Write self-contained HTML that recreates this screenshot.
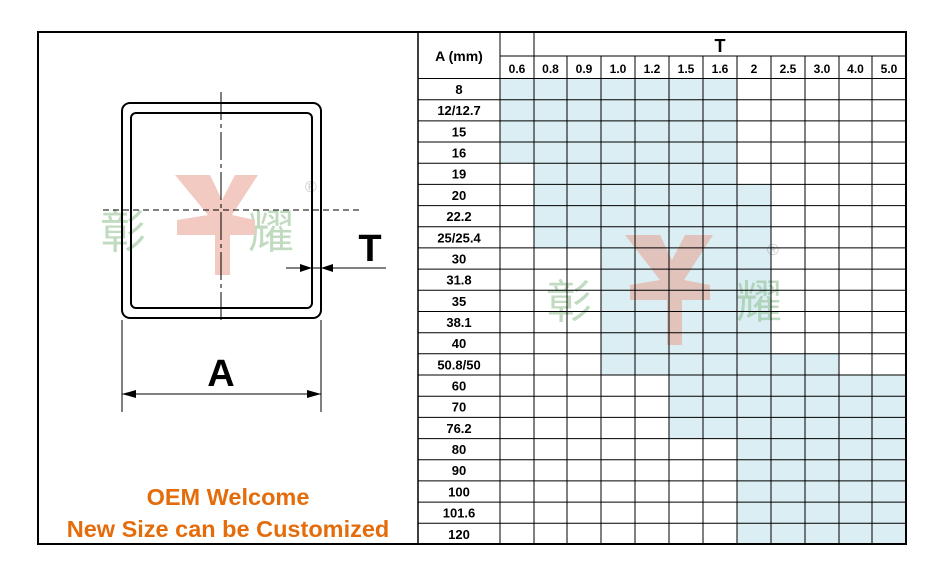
<!DOCTYPE html>
<html><head><meta charset="utf-8"><style>
body{margin:0;background:#fff;width:936px;height:575px;overflow:hidden}
svg{position:absolute;left:0;top:0}
</style></head><body>
<svg width="936" height="575" viewBox="0 0 936 575" xmlns="http://www.w3.org/2000/svg" font-family="Liberation Sans, Noto Sans CJK SC, sans-serif">
<g fill="#daeef3">
<rect x="500" y="78.5" width="237" height="84.7"/>
<rect x="534" y="163.2" width="203" height="21.2"/>
<rect x="534" y="184.4" width="237" height="63.5"/>
<rect x="601" y="247.9" width="170" height="105.9"/>
<rect x="601" y="353.8" width="238" height="21.2"/>
<rect x="669" y="375" width="237" height="63.6"/>
<rect x="737" y="438.6" width="169" height="105.9"/>
</g>
<g opacity="0.55">
<text x="100" y="248" font-size="46" fill="#8fbf8f">彰</text>
<text x="248" y="248" font-size="46" fill="#8fbf8f">耀</text>
<path d="M175,175 L210,175 L222,200 L235,175 L258,175 L232,215 L255,220 L255,235 L230,235 L230,275 L215,275 L215,235 L177,235 L177,220 L208,215 z" fill="#e8a090"/>
<text x="305" y="192" font-size="16" fill="#999">®</text>
<text x="546" y="318" font-size="46" fill="#8fbf8f">彰</text>
<text x="736" y="318" font-size="46" fill="#8fbf8f">耀</text>
<path d="M625,235 L660,235 L672,260 L685,235 L713,235 L684,280 L710,285 L710,300 L682,300 L682,345 L667,345 L667,300 L630,300 L630,285 L660,280 z" fill="#e8a090"/>
<text x="767" y="255" font-size="16" fill="#999">®</text>
</g>
<g fill="none" stroke="#000">
<rect x="122" y="103" width="199" height="215" rx="8" stroke-width="2"/>
<rect x="131" y="113" width="181" height="195" rx="5" stroke-width="2"/>
<line x1="221" y1="92" x2="221" y2="320" stroke-width="1" stroke-dasharray="28,4,4,4"/>
<line x1="103" y1="210" x2="363" y2="210" stroke-width="1" stroke-dasharray="6,4"/>
<line x1="286" y1="268" x2="386" y2="268" stroke-width="1"/>
<line x1="122" y1="320" x2="122" y2="412" stroke-width="1"/>
<line x1="321" y1="320" x2="321" y2="412" stroke-width="1"/>
<line x1="122" y1="394" x2="321" y2="394" stroke-width="1"/>
</g>
<g fill="#000">
<polygon points="312,268 300,264 300,272"/>
<polygon points="321,268 333,264 333,272"/>
<polygon points="122,394 136,390 136,398"/>
<polygon points="321,394 307,390 307,398"/>
</g>
<text x="370" y="261" font-size="38" font-weight="bold" text-anchor="middle">T</text>
<text x="221" y="386" font-size="38" font-weight="bold" text-anchor="middle">A</text>
<text x="228" y="505" font-size="23.5" font-weight="bold" fill="#e46c0a" text-anchor="middle">OEM Welcome</text>
<text x="228" y="537" font-size="23.5" font-weight="bold" fill="#e46c0a" text-anchor="middle">New Size can be Customized</text>
<g stroke="#000" stroke-width="1">
<line x1="500" y1="56" x2="906" y2="56"/>
<line x1="418" y1="78.5" x2="906" y2="78.5"/>
<line x1="418" y1="99.7" x2="906" y2="99.7"/>
<line x1="418" y1="120.9" x2="906" y2="120.9"/>
<line x1="418" y1="142" x2="906" y2="142"/>
<line x1="418" y1="163.2" x2="906" y2="163.2"/>
<line x1="418" y1="184.4" x2="906" y2="184.4"/>
<line x1="418" y1="205.6" x2="906" y2="205.6"/>
<line x1="418" y1="226.8" x2="906" y2="226.8"/>
<line x1="418" y1="247.9" x2="906" y2="247.9"/>
<line x1="418" y1="269.1" x2="906" y2="269.1"/>
<line x1="418" y1="290.3" x2="906" y2="290.3"/>
<line x1="418" y1="311.5" x2="906" y2="311.5"/>
<line x1="418" y1="332.7" x2="906" y2="332.7"/>
<line x1="418" y1="353.8" x2="906" y2="353.8"/>
<line x1="418" y1="375" x2="906" y2="375"/>
<line x1="418" y1="396.2" x2="906" y2="396.2"/>
<line x1="418" y1="417.4" x2="906" y2="417.4"/>
<line x1="418" y1="438.6" x2="906" y2="438.6"/>
<line x1="418" y1="459.7" x2="906" y2="459.7"/>
<line x1="418" y1="480.9" x2="906" y2="480.9"/>
<line x1="418" y1="502.1" x2="906" y2="502.1"/>
<line x1="418" y1="523.3" x2="906" y2="523.3"/>
<line x1="500" y1="32" x2="500" y2="544"/>
<line x1="534" y1="32" x2="534" y2="544"/>
<line x1="567" y1="56" x2="567" y2="544"/>
<line x1="601" y1="56" x2="601" y2="544"/>
<line x1="635" y1="56" x2="635" y2="544"/>
<line x1="669" y1="56" x2="669" y2="544"/>
<line x1="703" y1="56" x2="703" y2="544"/>
<line x1="737" y1="56" x2="737" y2="544"/>
<line x1="771" y1="56" x2="771" y2="544"/>
<line x1="805" y1="56" x2="805" y2="544"/>
<line x1="839" y1="56" x2="839" y2="544"/>
<line x1="872" y1="56" x2="872" y2="544"/>
</g>
<g font-size="12" font-weight="bold" text-anchor="middle">
<text x="517" y="73">0.6</text><text x="550.5" y="73">0.8</text><text x="584" y="73">0.9</text><text x="618" y="73">1.0</text><text x="652" y="73">1.2</text><text x="686" y="73">1.5</text><text x="720" y="73">1.6</text><text x="754" y="73">2</text><text x="788" y="73">2.5</text><text x="822" y="73">3.0</text><text x="855.5" y="73">4.0</text><text x="889" y="73">5.0</text>
</g>
<text x="720" y="52" font-size="18" font-weight="bold" text-anchor="middle">T</text>
<text x="459" y="61" font-size="14" font-weight="bold" text-anchor="middle">A (mm)</text>
<g font-size="13" font-weight="bold" text-anchor="middle">
<text x="459" y="94">8</text>
<text x="459" y="115.2">12/12.7</text>
<text x="459" y="136.4">15</text>
<text x="459" y="157.5">16</text>
<text x="459" y="178.7">19</text>
<text x="459" y="199.9">20</text>
<text x="459" y="221.1">22.2</text>
<text x="459" y="242.3">25/25.4</text>
<text x="459" y="263.4">30</text>
<text x="459" y="284.6">31.8</text>
<text x="459" y="305.8">35</text>
<text x="459" y="327">38.1</text>
<text x="459" y="348.2">40</text>
<text x="459" y="369.3">50.8/50</text>
<text x="459" y="390.5">60</text>
<text x="459" y="411.7">70</text>
<text x="459" y="432.9">76.2</text>
<text x="459" y="454.1">80</text>
<text x="459" y="475.2">90</text>
<text x="459" y="496.4">100</text>
<text x="459" y="517.6">101.6</text>
<text x="459" y="538.8">120</text>
</g>
<rect x="38" y="32" width="868" height="512" fill="none" stroke="#000" stroke-width="2"/>
<line x1="418" y1="32" x2="418" y2="544" stroke="#000" stroke-width="1.5"/>
</svg>
</body></html>
